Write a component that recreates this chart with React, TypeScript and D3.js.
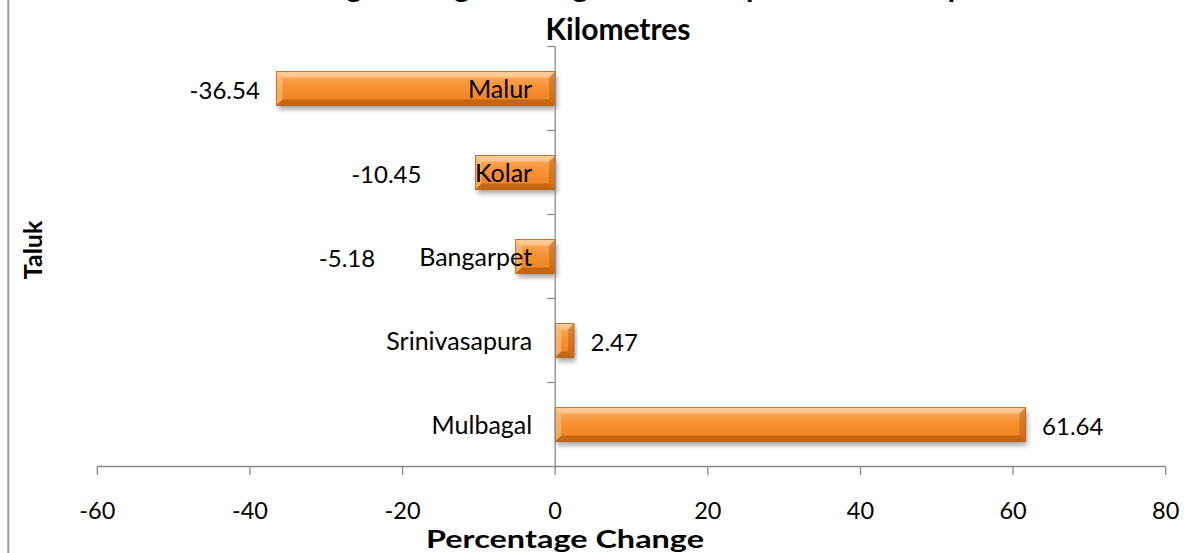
import React from "react";
import * as d3 from "d3";

const categories = ["Malur", "Kolar", "Bangarpet", "Srinivasapura", "Mulbagal"];
const values = [-36.54, -10.45, -5.18, 2.47, 61.64];
const xTicks = [-60, -40, -20, 0, 20, 40, 60, 80];
const titleLine1 = "Percentage Change in Length of Roads per Hundred Square";
const titleLine2 = "Kilometres";
const xTitle = "Percentage Change";
const yTitle = "Taluk";

// manual nudges of value labels (px), as placed in the source chart
const valueLabelShift = [0, -37.5, -124, 0, 0];

const W = 1197;
const H = 553;
const FONT = "Lato, Calibri, 'Open Sans', sans-serif";
const AXIS = "#8a8a8a";

const locale = d3.formatLocale({ decimal: ".", thousands: ",", grouping: [3], currency: ["", ""], minus: "-" });
const fmt = locale.format(".2f");
const fmtTick = locale.format("d");

const x = d3.scaleLinear().domain([-60, 80]).range([97.3, 1165.7]);
const y = d3
  .scaleBand<string>()
  .domain(categories)
  .range([46.5, 466.5])
  .paddingInner(0.595)
  .paddingOuter(0.2975);

function Bar({ x0, x1, y0, h }: { x0: number; x1: number; y0: number; h: number }) {
  const w = x1 - x0;
  const b = Math.min(6, w / 2, h / 2);
  const X0 = x0, X1 = x1, Y0 = y0, Y1 = y0 + h;
  const pts = (a: number[][]) => a.map((p) => p.join(",")).join(" ");
  return (
    <g>
      <rect x={X0 + 2} y={Y0 + 4} width={w} height={h} fill="#000" opacity={0.35} filter="url(#shadowBlur)" />
      <rect x={X0} y={Y0} width={w} height={h} fill="url(#barGrad)" />
      <polygon points={pts([[X0, Y0], [X1, Y0], [X1 - b, Y0 + b], [X0 + b, Y0 + b]])} fill="#FFE0B8" opacity={0.6} />
      <polygon points={pts([[X0, Y1], [X1, Y1], [X1 - b, Y1 - b], [X0 + b, Y1 - b]])} fill="#8A3C00" opacity={0.4} />
      <polygon points={pts([[X0, Y0], [X0 + b, Y0 + b], [X0 + b, Y1 - b], [X0, Y1]])} fill="#FFD6A0" opacity={0.45} />
      <polygon points={pts([[X1, Y0], [X1 - b, Y0 + b], [X1 - b, Y1 - b], [X1, Y1]])} fill="#9A4500" opacity={0.35} />
      <rect x={X0} y={Y0} width={w} height={h} fill="none" stroke="#B8601A" strokeWidth={0.8} />
    </g>
  );
}

export default function App() {
  const step = y.step();
  const top = 46.5;
  const bottom = 466.5;
  const boundaries = d3.range(categories.length).map((i) => top + i * step);
  const x0 = x(0);
  return (
    <svg
      width={W}
      height={H}
      style={{ position: "absolute", left: 0, top: 0, background: "#fff" }}
      fontFamily={FONT}
    >
      <defs>
        <linearGradient id="barGrad" x1="0" y1="0" x2="0" y2="1">
          <stop offset="0" stopColor="#FBAE62" />
          <stop offset="0.45" stopColor="#F79234" />
          <stop offset="1" stopColor="#EC7F1C" />
        </linearGradient>
        <filter id="shadowBlur" x="-10%" y="-50%" width="120%" height="200%">
          <feGaussianBlur stdDeviation="2.5" />
        </filter>
      </defs>
      <rect x={0} y={0} width={W} height={H} fill="#fff" />
      <line x1={8.3} x2={8.3} y1={0} y2={H} stroke="#9a9a9a" strokeWidth={2} />

      {/* title */}
      <text x={621} y={-3} textAnchor="middle" fontWeight="bold" fontSize={30}>
        {titleLine1}
      </text>
      <text x={618} y={40} textAnchor="middle" fontWeight="bold" fontSize={30}>
        {titleLine2}
      </text>

      {/* bars */}
      {categories.map((c, i) => {
        const v = values[i];
        const a = Math.min(x(v), x0);
        const bEnd = Math.max(x(v), x0);
        return <Bar key={c} x0={a} x1={bEnd} y0={y(c)!} h={y.bandwidth()} />;
      })}

      {/* y axis */}
      <line x1={x0} x2={x0} y1={top} y2={bottom} stroke={AXIS} strokeWidth={1.3} />
      {boundaries.map((by, i) => (
        <line key={i} x1={x0 - 8} x2={x0} y1={by} y2={by} stroke={AXIS} strokeWidth={1.3} />
      ))}
      {categories.map((c) => (
        <text
          key={c}
          x={x0 - 23}
          y={y(c)! + y.bandwidth() / 2 + 9}
          textAnchor="end"
          fontSize={25}
          fill="#000"
        >
          {c}
        </text>
      ))}

      {/* value labels */}
      {categories.map((c, i) => {
        const v = values[i];
        const cy = y(c)! + y.bandwidth() / 2 + 10;
        const neg = v < 0;
        const lx = neg ? x(v) - 16.5 + valueLabelShift[i] : x(v) + 16.5 + valueLabelShift[i];
        return (
          <text key={c} x={lx} y={cy} textAnchor={neg ? "end" : "start"} fontSize={24} fill="#000">
            {fmt(v)}
          </text>
        );
      })}

      {/* x axis */}
      <line x1={x(-60)} x2={x(80)} y1={bottom} y2={bottom} stroke={AXIS} strokeWidth={1.3} />
      {xTicks.map((t) => (
        <g key={t}>
          <line x1={x(t)} x2={x(t)} y1={bottom} y2={bottom + 8.5} stroke={AXIS} strokeWidth={1.3} />
          <text x={x(t)} y={519} textAnchor="middle" fontSize={23.5} fill="#000">
            {fmtTick(t)}
          </text>
        </g>
      ))}

      {/* axis titles */}
      <text
        x={565}
        y={548}
        textAnchor="middle"
        fontWeight="bold"
        fontSize={25}
        textLength={278}
        lengthAdjust="spacingAndGlyphs"
      >
        {xTitle}
      </text>
      <text
        transform={`translate(42,250) rotate(-90)`}
        textAnchor="middle"
        fontWeight="bold"
        fontSize={25}
      >
        {yTitle}
      </text>
    </svg>
  );
}
